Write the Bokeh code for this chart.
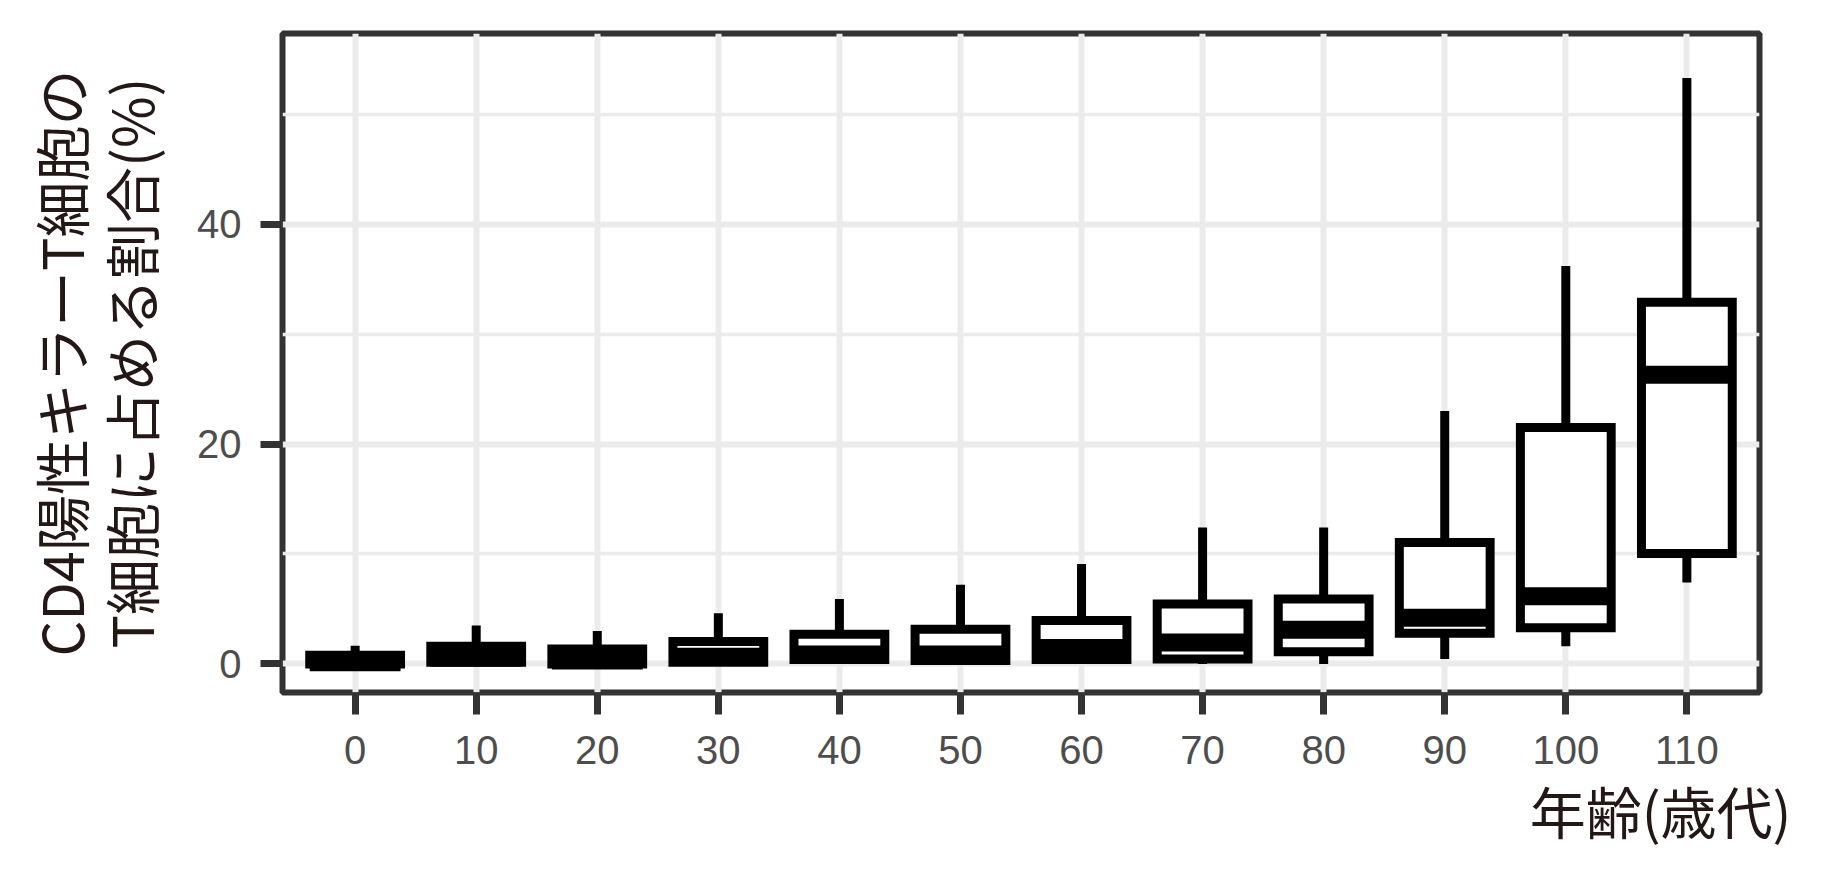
import numpy as np
from bokeh.plotting import figure
from bokeh.models import Range1d, FixedTicker, LinearAxis, ColumnDataSource, Title
from bokeh.embed import file_html
from bokeh.resources import INLINE

# ---- data ----
ages = ["0", "10", "20", "30", "40", "50", "60", "70", "80", "90", "100", "110"]
whisker_low = [0.0, 0.0, 0.0, 0.0, 0.0, 0.0, 0.0, 0.0, 0.0, 0.45, 1.6, 7.4]
q1 = [0.0, 0.15, 0.0, 0.15, 0.4, 0.3, 0.4, 0.45, 1.1, 2.8, 3.3, 10.05]
median = [0.15, 0.55, 0.3, 0.65, 0.85, 0.85, 1.45, 1.95, 3.1, 4.2, 6.15, 26.3]
q3 = [0.8, 1.6, 1.35, 2.05, 2.7, 3.15, 3.95, 5.45, 5.9, 11.05, 21.5, 32.9]
whisker_high = [1.65, 3.5, 3.0, 4.6, 5.9, 7.2, 9.1, 12.4, 12.4, 23.0, 36.2, 53.3]

y_ticks = [0, 20, 40]
y_minor_ticks = [10, 30, 50]
y_title_lines = ["CD4陽性キラーT細胞の", "T細胞に占める割合(%)"]
x_title = "年齢(歳代)"

# ---- layout / style ----
BOX_W = 0.75
xpos = list(range(len(ages)))
TITLE_COLOR = "#231815"
TITLE_FONT = "Noto Sans CJK JP"
TITLE_SIZE = "56px"

src = ColumnDataSource(dict(
    x=xpos,
    left=[i - BOX_W / 2 for i in xpos],
    right=[i + BOX_W / 2 for i in xpos],
    lo=whisker_low, q1=q1, med=median, q3=q3, hi=whisker_high,
))

p = figure(
    frame_width=1477, frame_height=659,
    min_border_left=282, min_border_right=55,
    min_border_top=33, min_border_bottom=164,
    x_range=Range1d(-0.6, len(ages) - 0.4),
    y_range=Range1d(-2.6, 57.35),
    output_backend="svg", toolbar_location=None,
    background_fill_color="white", border_fill_color="white",
)

# grid
p.xgrid.grid_line_color = "#ebebeb"
p.xgrid.grid_line_width = 6
p.ygrid.grid_line_color = "#ebebeb"
p.ygrid.grid_line_width = 6
p.ygrid.minor_grid_line_color = "#ebebeb"
p.ygrid.minor_grid_line_width = 3.5

# axes
p.xaxis.ticker = FixedTicker(ticks=xpos)
p.xaxis.major_label_overrides = {i: a for i, a in zip(xpos, ages)}
p.yaxis.ticker = FixedTicker(ticks=y_ticks, minor_ticks=y_minor_ticks)
for ax in (p.xaxis, p.yaxis):
    ax.axis_line_color = None
    ax.major_tick_line_color = "#333333"
    ax.major_tick_line_width = 7
    ax.major_tick_out = 22
    ax.major_tick_in = 0
    ax.minor_tick_line_color = None
    ax.major_label_text_font = "Liberation Sans"
    ax.major_label_text_font_size = "40px"
    ax.major_label_text_color = "#4d4d4d"
    ax.axis_label_text_font = TITLE_FONT
    ax.axis_label_text_font_size = TITLE_SIZE
    ax.axis_label_text_font_style = "normal"
    ax.axis_label_text_color = TITLE_COLOR
p.xaxis.major_label_standoff = 21
p.yaxis.major_label_standoff = 19

# y-axis title: inner line on the main y axis, outer line on an empty extra axis
p.yaxis.axis_label = y_title_lines[1]
p.yaxis.axis_label_standoff = 24
outer = LinearAxis(
    ticker=FixedTicker(ticks=[]),
    axis_line_color=None, major_tick_line_color=None, minor_tick_line_color=None,
    major_tick_out=0, major_tick_in=0, major_label_text_font_size="0px",
    axis_label=y_title_lines[0], axis_label_standoff=-13,
    axis_label_text_font=TITLE_FONT, axis_label_text_font_size=TITLE_SIZE,
    axis_label_text_font_style="normal", axis_label_text_color=TITLE_COLOR,
)
p.add_layout(outer, "left")

# x-axis title, right aligned under the panel
p.add_layout(Title(text=x_title, align="right", offset=-32, standoff=0,
                   text_font=TITLE_FONT, text_font_size=TITLE_SIZE,
                   text_font_style="normal", text_color=TITLE_COLOR), "below")

p.outline_line_color = "#333333"
p.outline_line_width = 6
p.outline_line_alpha = 1.0

# boxplots
p.segment(x0="x", y0="q3", x1="x", y1="hi", source=src,
          line_color="black", line_width=9, line_cap="butt")
p.segment(x0="x", y0="q1", x1="x", y1="lo", source=src,
          line_color="black", line_width=9, line_cap="butt")
p.quad(left="left", right="right", top="q3", bottom="q1", source=src,
       fill_color="white", line_color="black", line_width=9, line_join="miter")
p.segment(x0="left", y0="med", x1="right", y1="med", source=src,
          line_color="black", line_width=18, line_cap="butt")

open("out.html", "w").write(file_html(p, INLINE))
